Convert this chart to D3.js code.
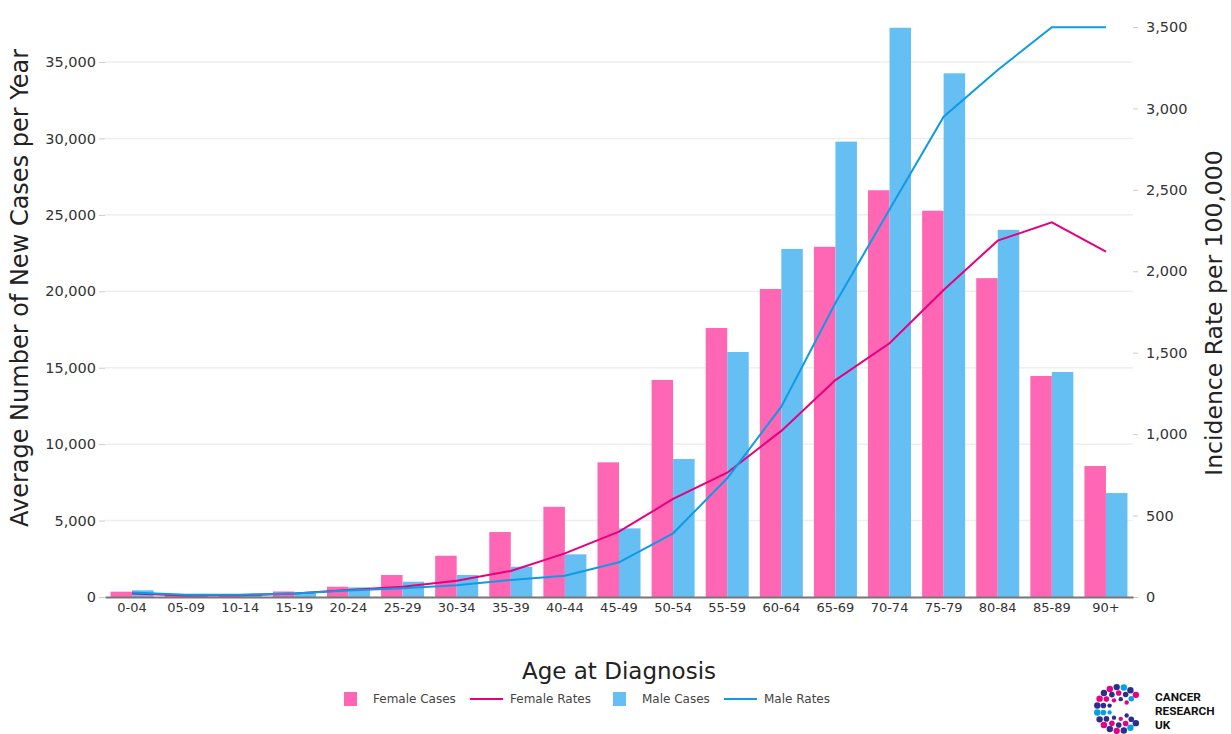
<!DOCTYPE html>
<html>
<head>
<meta charset="utf-8">
<script src="https://cdn.jsdelivr.net/npm/d3@7"></script>
<style>
  html, body { margin: 0; padding: 0; background: #fff; }
  svg { display: block; font-family: "DejaVu Sans", "Open Sans", sans-serif; }
</style>
</head>
<body>
<svg id="chart" width="1231" height="734"></svg>
<script>
// Age bands at diagnosis
const ageGroups = ["0-04","05-09","10-14","15-19","20-24","25-29","30-34","35-39","40-44","45-49",
                   "50-54","55-59","60-64","65-69","70-74","75-79","80-84","85-89","90+"];

// Average number of new cases per year
const femaleCases = [350, 150, 160, 360, 670, 1440, 2700, 4250, 5900, 8810,
                     14200, 17600, 20150, 22910, 26610, 25270, 20860, 14460, 8570];
const maleCases   = [440, 200, 200, 260, 630, 1000, 1440, 1980, 2790, 4490,
                     9030, 16030, 22770, 29790, 37240, 34260, 24020, 14720, 6800];

// Incidence rate per 100,000
const femaleRates = [22, 9, 10, 22, 43, 63, 100, 160, 268, 401,
                     602, 763, 1020, 1332, 1558, 1885, 2188, 2301, 2120];
const maleRates   = [28, 14, 14, 22, 40, 53, 72, 105, 131, 213,
                     391, 729, 1169, 1805, 2380, 2949, 3236, 3498, 3498];

const leftTicks  = [0, 5000, 10000, 15000, 20000, 25000, 30000, 35000];
const rightTicks = [0, 500, 1000, 1500, 2000, 2500, 3000, 3500];

const colors = {
  femaleBar: "#FF66B3",
  maleBar: "#66BFF2",
  femaleLine: "#E5007E",
  maleLine: "#0F9BE3"
};

const FONT = '"DejaVu Sans", "Open Sans", sans-serif';
const svg = d3.select("#chart");
const plot = { left: 105, right: 1133, top: 27, bottom: 597 };

const xc = d3.scaleBand().domain(ageGroups).range([plot.left, plot.right]);
const yL = d3.scaleLinear().domain([0, 37290]).range([plot.bottom, plot.top]);
const yR = d3.scaleLinear().domain([0, 3500]).range([plot.bottom, plot.top]);
const sub = d3.scaleBand().domain(["f", "m"]).range([0, 43]);

// gridlines
svg.append("g").selectAll("line").data(leftTicks.slice(1)).join("line")
  .attr("x1", plot.left).attr("x2", plot.right)
  .attr("y1", d => yL(d)).attr("y2", d => yL(d))
  .attr("stroke", "#eeeeee").attr("stroke-width", 1.5);

// left axis
const axL = svg.append("g").attr("transform", `translate(${plot.left},0)`)
  .call(d3.axisLeft(yL).tickValues(leftTicks).tickFormat(d3.format(",")).tickSize(6).tickPadding(3))
  .attr("font-family", FONT);
axL.select(".domain").remove();
axL.selectAll(".tick line").attr("stroke", "#cccccc");
axL.selectAll(".tick text").attr("fill", "#333").style("font-size", "14.5px");

// right axis
const axR = svg.append("g").attr("transform", `translate(${plot.right},0)`)
  .call(d3.axisRight(yR).tickValues(rightTicks).tickFormat(d3.format(",")).tickSize(5).tickPadding(8))
  .attr("font-family", FONT);
axR.select(".domain").remove();
axR.selectAll(".tick line").attr("stroke", "#cccccc");
axR.selectAll(".tick text").attr("fill", "#333").style("font-size", "14.5px");

// bars
const groups = svg.append("g").selectAll("g").data(ageGroups).join("g")
  .attr("transform", d => `translate(${xc(d) + xc.bandwidth() / 2 - 21.5},0)`);
groups.append("rect")
  .attr("x", sub("f")).attr("width", sub.bandwidth())
  .attr("y", (d, i) => yL(femaleCases[i])).attr("height", (d, i) => plot.bottom - yL(femaleCases[i]))
  .attr("fill", colors.femaleBar);
groups.append("rect")
  .attr("x", sub("m")).attr("width", sub.bandwidth())
  .attr("y", (d, i) => yL(maleCases[i])).attr("height", (d, i) => plot.bottom - yL(maleCases[i]))
  .attr("fill", colors.maleBar);

// bottom axis
const axB = svg.append("g").attr("transform", `translate(0,${plot.bottom})`)
  .call(d3.axisBottom(xc).tickSize(0).tickPadding(6))
  .attr("font-family", FONT);
axB.select(".domain").attr("stroke", "#777").attr("stroke-width", 2);
axB.selectAll(".tick text").attr("fill", "#333").style("font-size", "13px");

// rate lines
const line = vals => d3.line()
  .x((d, i) => xc(ageGroups[i]) + xc.bandwidth() / 2)
  .y(d => yR(d))(vals);
svg.append("path").attr("d", line(femaleRates)).attr("fill", "none")
  .attr("stroke", colors.femaleLine).attr("stroke-width", 2);
svg.append("path").attr("d", line(maleRates)).attr("fill", "none")
  .attr("stroke", colors.maleLine).attr("stroke-width", 2);

// axis titles
svg.append("text").attr("transform", "translate(28,288) rotate(-90)")
  .attr("text-anchor", "middle").attr("fill", "#222").style("font-size", "24px")
  .text("Average Number of New Cases per Year");
svg.append("text").attr("transform", "translate(1222,313) rotate(-90)")
  .attr("text-anchor", "middle").attr("fill", "#222").style("font-size", "23.5px")
  .text("Incidence Rate per 100,000");
svg.append("text").attr("x", 619).attr("y", 679)
  .attr("text-anchor", "middle").attr("fill", "#222").style("font-size", "23px")
  .text("Age at Diagnosis");

// legend
const legendItems = [
  { label: "Female Cases", type: "box", color: colors.femaleBar, x: 344 },
  { label: "Female Rates", type: "line", color: colors.femaleLine, x: 470 },
  { label: "Male Cases", type: "box", color: colors.maleBar, x: 613 },
  { label: "Male Rates", type: "line", color: colors.maleLine, x: 724 }
];
const lg = svg.append("g").selectAll("g").data(legendItems).join("g")
  .attr("transform", d => `translate(${d.x},699)`);
lg.filter(d => d.type === "box").append("rect")
  .attr("x", 0).attr("y", -7).attr("width", 13).attr("height", 14).attr("fill", d => d.color);
lg.filter(d => d.type === "line").append("line")
  .attr("x1", 0).attr("x2", 33).attr("y1", 0).attr("y2", 0)
  .attr("stroke", d => d.color).attr("stroke-width", 2);
lg.append("text").attr("x", d => d.type === "box" ? 29 : 40).attr("y", 0).attr("dy", "0.35em")
  .attr("fill", "#444").style("font-size", "12px").text(d => d.label);

// logo: dotted "C" and wordmark
const logo = svg.append("g").attr("transform", "translate(1119,709)");
const dotPalette = ["#E40087", "#2E2D8C", "#00A3E0", "#2E2D8C", "#E40087", "#2E2D8C"];
const rings = [{ r: 22, n: 16, s: 3.2 }, { r: 16, n: 12, s: 2.8 }, { r: 10, n: 8, s: 2.2 }];
const dots = [];
rings.forEach((ring, ri) => {
  for (let k = 0; k < ring.n; k++) {
    const a = (40 + k * (280 / (ring.n - 1))) * Math.PI / 180;
    dots.push({ x: ring.r * Math.cos(a), y: -ring.r * Math.sin(a), r: ring.s, c: dotPalette[(k + ri * 2) % dotPalette.length] });
  }
});
logo.selectAll("circle").data(dots).join("circle")
  .attr("cx", d => d.x).attr("cy", d => d.y).attr("r", d => d.r).attr("fill", d => d.c);
const word = svg.append("g").attr("transform", "translate(1155,0)")
  .attr("fill", "#111").style("font-family", "Roboto, sans-serif")
  .style("font-size", "11.8px").style("font-weight", "700");
["CANCER", "RESEARCH", "UK"].forEach((t, i) => {
  word.append("text").attr("x", 0).attr("y", 701 + i * 14).text(t);
});
</script>
</body>
</html>
